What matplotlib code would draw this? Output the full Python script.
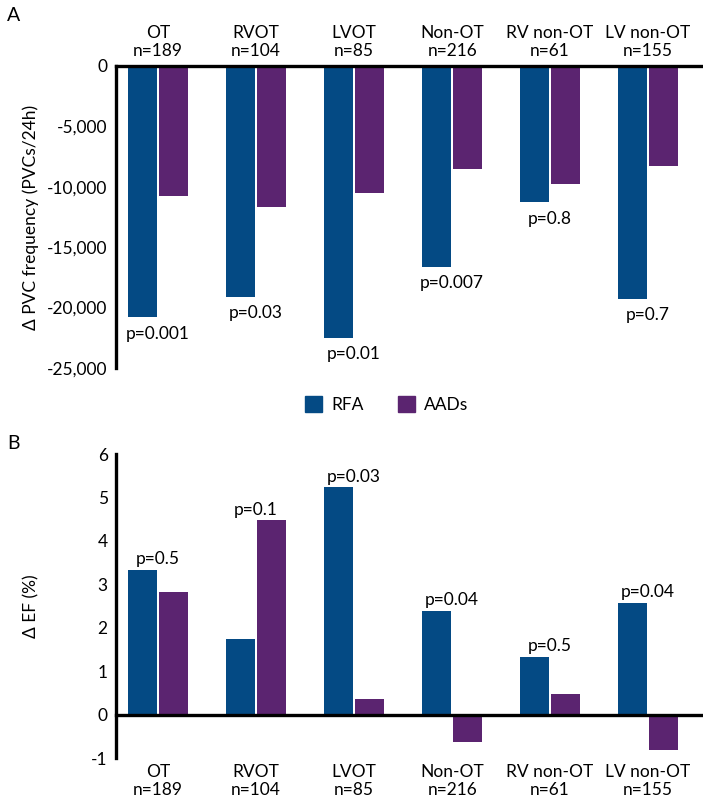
import matplotlib.pyplot as plt
import numpy as np
from matplotlib.patches import Patch

plt.rcParams['font.family'] = ['Lato', 'DejaVu Sans']

# data
groups = ["OT", "RVOT", "LVOT", "Non-OT", "RV non-OT", "LV non-OT"]
n_pts = [189, 104, 85, 216, 61, 155]
pvc_rfa = [-20800, -19100, -22500, -16600, -11300, -19300]
pvc_aad = [-10800, -11700, -10500, -8500, -9800, -8250]
pvc_p = ["p=0.001", "p=0.03", "p=0.01", "p=0.007", "p=0.8", "p=0.7"]
ef_rfa = [3.34, 1.74, 5.23, 2.39, 1.33, 2.58]
ef_aad = [2.83, 4.47, 0.35, -0.63, 0.47, -0.82]
ef_p = ["p=0.5", "p=0.1", "p=0.03", "p=0.04", "p=0.5", "p=0.04"]

blue = "#044a84"
purple = "#5b2470"
fs = 12.5

labels = [g + "\nn=" + str(n) for g, n in zip(groups, n_pts)]
x = np.arange(len(groups))
w = 0.296
off = 0.158

fig = plt.figure(figsize=(7.03, 7.96), dpi=100)

# panel A
ax1 = fig.add_axes([0.165, 0.5377, 0.835, 0.3794])
ax1.bar(x - off, pvc_rfa, w, color=blue)
ax1.bar(x + off, pvc_aad, w, color=purple)
ax1.set_xlim(-0.43, 5.56)
ax1.set_ylim(-25000, 0)
ax1.set_yticks([0, -5000, -10000, -15000, -20000, -25000])
ax1.set_yticklabels(["0", "-5,000", "-10,000", "-15,000", "-20,000", "-25,000"], fontsize=fs)
ax1.xaxis.tick_top()
ax1.set_xticks(x)
ax1.set_xticklabels(labels, fontsize=fs, linespacing=1.15)
ax1.tick_params(length=0, pad=6)
ax1.tick_params(axis='x', pad=5)
for s in ["right", "bottom", "top"]:
    ax1.spines[s].set_visible(False)
ax1.spines["left"].set_linewidth(2.4)
ax1.axhline(0, color="black", lw=2.4, clip_on=False)
ax1.set_ylabel("Δ PVC frequency (PVCs/24h)", fontsize=fs)
ax1.yaxis.set_label_coords(-0.131, 0.5)
for i in range(len(groups)):
    ax1.annotate(pvc_p[i], (x[i], min(pvc_rfa[i], pvc_aad[i])), xytext=(0, -6),
                 textcoords="offset points", ha="center", va="top", fontsize=fs)

# panel B
ax2 = fig.add_axes([0.165, 0.0477, 0.835, 0.3819])
ax2.bar(x - off, ef_rfa, w, color=blue)
ax2.bar(x + off, ef_aad, w, color=purple)
ax2.set_xlim(-0.43, 5.56)
ax2.set_ylim(-1, 6)
ax2.set_yticks(range(-1, 7))
ax2.set_yticklabels([str(v) for v in range(-1, 7)], fontsize=fs)
ax2.set_xticks(x)
ax2.set_xticklabels(labels, fontsize=fs, linespacing=1.15)
ax2.tick_params(length=0, pad=6)
ax2.tick_params(axis='x', pad=4)
for s in ["right", "bottom", "top"]:
    ax2.spines[s].set_visible(False)
ax2.spines["left"].set_linewidth(2.4)
ax2.axhline(0, color="black", lw=2.4, clip_on=False)
ax2.set_ylabel("Δ EF (%)", fontsize=fs)
ax2.yaxis.set_label_coords(-0.131, 0.5)
for i in range(len(groups)):
    ax2.annotate(ef_p[i], (x[i], max(ef_rfa[i], ef_aad[i])), xytext=(0, 2),
                 textcoords="offset points", ha="center", va="bottom", fontsize=fs)

# legend
handles = [Patch(color=blue, label="RFA"), Patch(color=purple, label="AADs")]
fig.legend(handles=handles, loc="center", bbox_to_anchor=(0.55, 0.492), ncol=2,
           frameon=False, fontsize=fs, handlelength=1.0, handleheight=1.0,
           columnspacing=2.0, handletextpad=0.5)

fig.text(0.01, 0.98, "A", fontsize=14, va="center")
fig.text(0.01, 0.443, "B", fontsize=14, va="center")

fig.savefig("out.png", dpi=100)
